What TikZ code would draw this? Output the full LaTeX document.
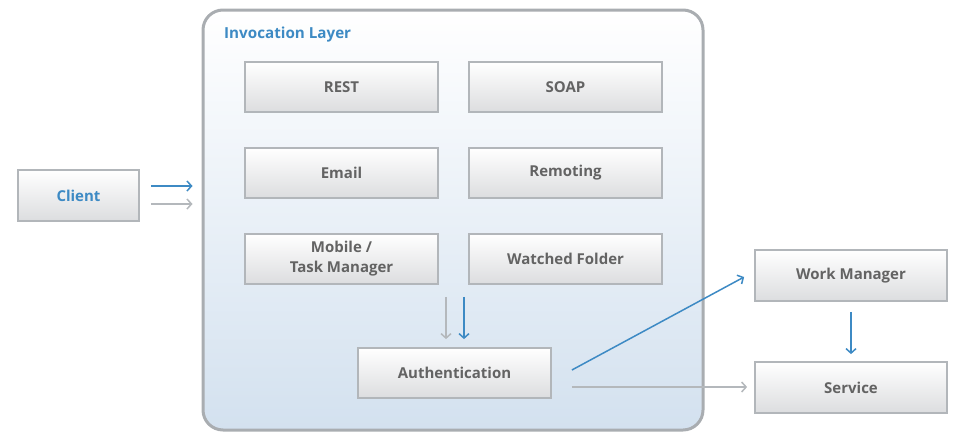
\documentclass[tikz,border=0pt]{standalone}
\usepackage{fontspec}
\setmainfont{Open Sans}
\usetikzlibrary{arrows.meta,calc}
\definecolor{boxborder}{HTML}{B2B6BA}
\definecolor{boxtext}{HTML}{636363}
\definecolor{layerborder}{HTML}{A9ADB1}
\definecolor{layerbottom}{HTML}{D3E1EF}
\definecolor{boxbottom}{HTML}{DCDDDF}
\definecolor{bluec}{HTML}{3D8AC4}
\definecolor{grayc}{HTML}{B4B8BC}
\tikzset{
  box/.style={rectangle, draw=boxborder, line width=1.8pt, top color=white, bottom color=boxbottom,
    minimum width=193pt, minimum height=50pt, inner sep=0pt, align=center,
    font=\fontsize{15}{20}\selectfont\bfseries, text=boxtext},
  layer/.style={rectangle, draw=layerborder, line width=3pt, rounded corners=20pt,
    top color=white, bottom color=layerbottom, minimum width=500pt, minimum height=420pt, inner sep=0pt},
  bluearr/.style={draw=bluec, line width=1.5pt, -{Straight Barb[length=4.5pt,width=10pt,line width=1.5pt]}},
  grayarr/.style={draw=grayc, line width=1.5pt, -{Straight Barb[length=4.5pt,width=10pt,line width=1.5pt]}},
  title/.style={font=\fontsize{15.2}{16}\selectfont\bfseries, text=bluec, anchor=west, inner sep=0pt}
}
\begin{document}
\begin{tikzpicture}[x=1pt,y=-1pt]
\useasboundingbox (0,0) rectangle (957,431);
\node[layer] (layer) at (453,220) {};
\node[title] (ltitle) at (224,35) {Invocation Layer};
\node[box] (rest) at (341.5,87) {REST};
\node[box] (soap) at (565.5,87) {SOAP};
\node[box] (email) at (341.5,173) {Email};
\node[box] (remoting) at (565.5,173) {Remoting};
\node[box] (mobile) at (341.5,259) {Mobile /\\Task Manager};
\node[box] (watched) at (565.5,259) {Watched Folder};
\node[box] (auth) at (454.5,373) {Authentication};
\node[box, minimum width=121pt, minimum height=51pt, text=bluec] (client) at (78.5,195.5) {Client};
\node[box, minimum width=192pt, minimum height=51pt] (wm) at (851,275.5) {Work Manager};
\node[box, minimum width=192pt, minimum height=51pt] (service) at (851,387.5) {Service};
% client arrows
\draw[bluearr] ([xshift=11pt,yshift=9.5pt]client.east) -- ([xshift=-9pt,yshift=9.5pt]client.east -| layer.west);
\draw[grayarr] ([xshift=11pt,yshift=-8.5pt]client.east) -- ([xshift=-9pt,yshift=-8.5pt]client.east -| layer.west);
% down arrows
\draw[grayarr] ([xshift=-8.5pt,yshift=-12pt]mobile.south -| auth.north) -- ([xshift=-8.5pt,yshift=8pt]auth.north);
\draw[bluearr] ([xshift=9.5pt,yshift=-12pt]mobile.south -| auth.north) -- ([xshift=9.5pt,yshift=8pt]auth.north);
% auth to wm / service
\draw[bluearr] ([xshift=20pt,yshift=3pt]auth.east) -- ([xshift=-10pt,yshift=-1.5pt]wm.west);
\draw[grayarr] ([xshift=20pt,yshift=-14pt]auth.east) -- ([xshift=-7pt,yshift=-14pt]auth.east -| service.west);
% wm to service
\draw[bluearr] ([yshift=-10pt]wm.south) -- ([yshift=7pt]service.north);
\end{tikzpicture}
\end{document}
